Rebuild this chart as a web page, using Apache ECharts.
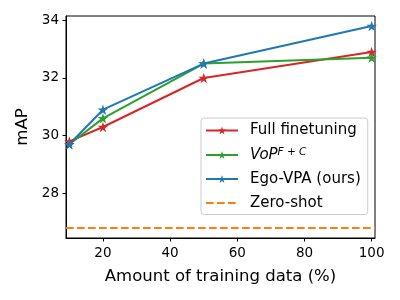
<!DOCTYPE html>
<html>
<head>
<meta charset="utf-8">
<style>html,body{margin:0;padding:0;background:#fff}#c{width:400px;height:300px}</style>
<script src="https://cdn.jsdelivr.net/npm/echarts@6/dist/echarts.min.js"></script>
</head>
<body>
<div id="c"></div>
<script>
// Data
const xValues = [10, 20, 50, 100];
const fullFinetuning = [29.8, 30.3, 32.0, 32.9];
const vopFC = [29.7, 30.6, 32.5, 32.7];
const egoVPA = [29.7, 30.9, 32.5, 33.8];
const zeroShot = 26.8;
const xLimits = [9, 101];
const yLimits = [26.45, 34.15];
const xTicks = [20, 40, 60, 80, 100];
const yTicks = [28, 30, 32, 34];
const seriesNames = ['Full finetuning', 'VoP^{F+C}', 'Ego-VPA (ours)', 'Zero-shot'];

const FONT = 'DejaVu Sans';
const star = 'path://M50,0 L61.2,34.5 L97.6,34.5 L68.2,55.9 L79.4,90.5 L50,69.1 L20.6,90.5 L31.8,55.9 L2.4,34.5 L38.8,34.5 Z';

function pairs(ys) { return xValues.map((x, i) => [x, ys[i]]); }
function lineSeries(name, ys, color) {
  return {
    name, type: 'line', data: pairs(ys),
    symbol: star, symbolSize: 10.5, showSymbol: true,
    lineStyle: { color, width: 2 },
    itemStyle: { color },
    animation: false
  };
}

const chart = echarts.init(document.getElementById('c'), null, { renderer: 'canvas' });
chart.setOption({
  animation: false,
  grid: { left: 66, right: 25, top: 16, bottom: 62, show: true, borderColor: '#000', borderWidth: 1 },
  xAxis: {
    type: 'value', min: xLimits[0], max: xLimits[1],
    name: 'Amount of training data (%)', nameLocation: 'middle', nameGap: 30,
    nameTextStyle: { fontFamily: FONT, fontSize: 16.5, color: '#000' },
    axisLine: { show: true, onZero: false, lineStyle: { color: '#000' } },
    axisTick: { show: true, inside: false, length: 3.5, lineStyle: { color: '#000' }, customValues: xTicks },
    axisLabel: { fontFamily: FONT, fontSize: 13.5, color: '#000', margin: 8, customValues: xTicks },
    splitLine: { show: false }
  },
  yAxis: {
    type: 'value', min: yLimits[0], max: yLimits[1],
    name: 'mAP', nameLocation: 'middle', nameGap: 33, nameRotate: 90,
    nameTextStyle: { fontFamily: FONT, fontSize: 16.5, color: '#000' },
    axisLine: { show: true, onZero: false, lineStyle: { color: '#000' } },
    axisTick: { show: true, inside: false, length: 3.5, lineStyle: { color: '#000' }, customValues: yTicks },
    axisLabel: { fontFamily: FONT, fontSize: 13.5, color: '#000', margin: 7, customValues: yTicks },
    splitLine: { show: false }
  },
  legend: {
    orient: 'vertical', left: 201, top: 118,
    padding: [5, 7, 4, 4],
    itemWidth: 32, itemHeight: 10, itemGap: 9,
    backgroundColor: 'rgba(255,255,255,0.8)', borderColor: '#cccccc', borderWidth: 1, borderRadius: 3,
    data: [
      seriesNames[0], seriesNames[1], seriesNames[2],
      { name: seriesNames[3], itemStyle: { color: 'rgba(0,0,0,0)', borderWidth: 0, opacity: 0 } }
    ],
    textStyle: {
      fontFamily: FONT, fontSize: 15, color: '#000', padding: [0, 0, 0, 7],
      rich: {
        it: { fontFamily: FONT, fontSize: 15, fontStyle: 'italic', color: '#000' },
        sup: { fontFamily: FONT, fontSize: 10.5, fontStyle: 'italic', color: '#000', verticalAlign: 'top', padding: [0, 0, 5, 0] },
        supr: { fontFamily: FONT, fontSize: 10.5, color: '#000', verticalAlign: 'top', padding: [0, 0, 5, 0] }
      }
    },
    formatter: function (name) {
      if (name === 'VoP^{F+C}') return '{it|VoP}{sup|F}{supr| + }{sup|C}';
      return name;
    }
  },
  series: [
    lineSeries(seriesNames[0], fullFinetuning, '#d62728'),
    lineSeries(seriesNames[1], vopFC, '#2ca02c'),
    lineSeries(seriesNames[2], egoVPA, '#1f77b4'),
    {
      name: seriesNames[3], type: 'line',
      data: [[xLimits[0], zeroShot], [xLimits[1], zeroShot]],
      symbol: 'none', lineStyle: { color: '#ff7f0e', width: 2, type: [7.7, 3.3] },
      itemStyle: { color: '#ff7f0e' }, animation: false, z: 1
    }
  ]
});
</script>
</body>
</html>
